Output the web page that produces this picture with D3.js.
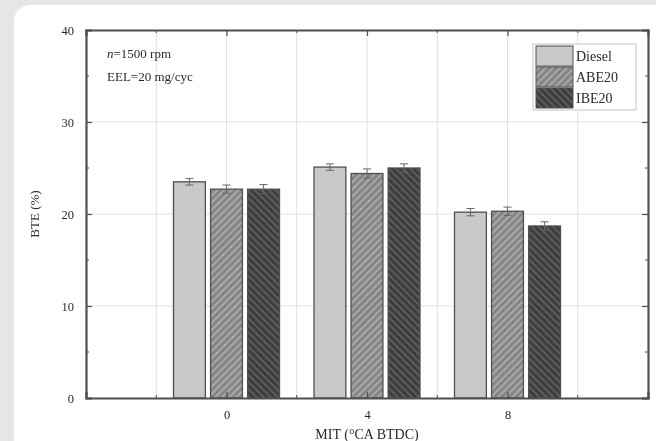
<!DOCTYPE html>
<html>
<head>
<meta charset="utf-8">
<script src="https://cdn.jsdelivr.net/npm/d3@7"></script>
<style>
  html, body {margin: 0; padding: 0; background: #e6e6e6;}
  svg {display: block;}
  text {font-family: "Liberation Serif", "DejaVu Serif", serif; fill: #2a2a2a;}
</style>
</head>
<body>
<svg id="vis" width="656" height="441"></svg>
<script>
// data
var categories = [0, 4, 8];
var series = ["Diesel", "ABE20", "IBE20"];
var diesel = [23.5, 25.1, 20.2];
var abe20 = [22.7, 24.4, 20.3];
var ibe20 = [22.7, 25.0, 18.7];
var dieselErr = [0.35, 0.35, 0.4];
var abe20Err = [0.45, 0.5, 0.45];
var ibe20Err = [0.5, 0.45, 0.45];
var yTicks = [0, 10, 20, 30, 40];

var values = [diesel, abe20, ibe20];
var errs = [dieselErr, abe20Err, ibe20Err];

var margin = {t: 30, r: 8, b: 43, l: 86};
var width = 656 - margin.l - margin.r;
var height = 441 - margin.t - margin.b;

var svg = d3.select('#vis');

var defs = svg.append('defs');

defs.append('filter').attr('id', 'soft')
    .append('feGaussianBlur').attr('stdDeviation', 0.45);

// hatch patterns
var pA = defs.append('pattern').attr('id', 'hatchA')
    .attr('patternUnits', 'userSpaceOnUse')
    .attr('width', 5).attr('height', 5)
    .attr('patternTransform', 'rotate(45)');
pA.append('rect').attr('width', 5).attr('height', 5).attr('fill', '#858585');
pA.append('rect').attr('width', 2).attr('height', 5).attr('fill', '#a8a8a8');

var pB = defs.append('pattern').attr('id', 'hatchB')
    .attr('patternUnits', 'userSpaceOnUse')
    .attr('width', 5).attr('height', 5)
    .attr('patternTransform', 'rotate(-45)');
pB.append('rect').attr('width', 5).attr('height', 5).attr('fill', '#3e3e3e');
pB.append('rect').attr('width', 2).attr('height', 5).attr('fill', '#5c5c5c');

var fills = {"Diesel": "#c9c9c9", "ABE20": "url(#hatchA)", "IBE20": "url(#hatchB)"};

// white card
svg.append('rect')
    .attr('x', 14).attr('y', 5)
    .attr('width', 700).attr('height', 500)
    .attr('rx', 16)
    .attr('fill', '#fff');

var chart = svg.append('g').attr('filter', 'url(#soft)');

var g = chart.append('g')
    .attr('transform', 'translate(' + margin.l + ',' + margin.t + ')');

var x = d3.scaleLinear().domain([-4, 12]).range([0, width]);
var y = d3.scaleLinear().domain([0, 40]).range([height, 0]);
var xs = d3.scaleBand().domain(series).range([-53, 53]).paddingInner(0.14);

var xMinor = d3.range(-2, 12, 4);
var yMinor = d3.range(5, 40, 10);

// grid
g.append('g').selectAll('line.vg')
    .data(d3.range(-2, 12, 2))
    .enter().append('line')
    .attr('x1', function(d){ return x(d); })
    .attr('x2', function(d){ return x(d); })
    .attr('y1', 0).attr('y2', height)
    .attr('stroke', '#e0e0e0').attr('stroke-width', 1);

g.append('g').selectAll('line.hg')
    .data([10, 20, 30])
    .enter().append('line')
    .attr('x1', 0).attr('x2', width)
    .attr('y1', function(d){ return y(d); })
    .attr('y2', function(d){ return y(d); })
    .attr('stroke', '#e0e0e0').attr('stroke-width', 1);

// bars
series.forEach(function(s, i){
    var grp = g.append('g').attr('class', 'bars-' + s);
    grp.selectAll('rect')
        .data(categories)
        .enter().append('rect')
        .attr('x', function(d){ return x(d) + xs(s); })
        .attr('y', function(d, j){ return y(values[i][j]); })
        .attr('width', xs.bandwidth())
        .attr('height', function(d, j){ return height - y(values[i][j]); })
        .attr('fill', fills[s])
        .attr('stroke', '#505050')
        .attr('stroke-width', 1.3);

    // error bars
    grp.selectAll('path.err')
        .data(categories)
        .enter().append('path')
        .attr('class', 'err')
        .attr('d', function(d, j){
            var cx = x(d) + xs(s) + xs.bandwidth()/2;
            var y1 = y(values[i][j] + errs[i][j]);
            var y0 = y(values[i][j] - errs[i][j]);
            return 'M' + (cx-4) + ',' + y1 + 'H' + (cx+4) +
                'M' + cx + ',' + y1 + 'V' + y0 +
                'M' + (cx-4) + ',' + y0 + 'H' + (cx+4);
        })
        .attr('fill', 'none')
        .attr('stroke', '#666')
        .attr('stroke-width', 1);
});

// axes, ticks pointing inward on all four sides
var axisColor = '#505050';

var axBottom = g.append('g').attr('transform', 'translate(0,' + height + ')')
    .call(d3.axisBottom(x).tickValues(categories).tickSize(-6).tickPadding(12).tickFormat(d3.format('d')));
var axLeft = g.append('g')
    .call(d3.axisLeft(y).tickValues(yTicks).tickSize(-6).tickPadding(12));
var axTop = g.append('g')
    .call(d3.axisTop(x).tickValues(categories).tickSize(-6).tickFormat(''));
var axRight = g.append('g').attr('transform', 'translate(' + width + ',0)')
    .call(d3.axisRight(y).tickValues(yTicks).tickSize(-6).tickFormat(''));

[axBottom, axLeft, axTop, axRight].forEach(function(a){
    a.select('.domain').attr('stroke', axisColor).attr('stroke-width', 2.2);
    a.selectAll('.tick line').attr('stroke', axisColor).attr('stroke-width', 1.2);
    a.selectAll('text').attr('font-size', 12.5).attr('fill', '#2a2a2a')
        .attr('font-family', '"Liberation Serif", serif');
});

// minor ticks
var minorG = g.append('g');
xMinor.forEach(function(v){
    minorG.append('line').attr('x1', x(v)).attr('x2', x(v)).attr('y1', height).attr('y2', height - 3)
        .attr('stroke', axisColor);
    minorG.append('line').attr('x1', x(v)).attr('x2', x(v)).attr('y1', 0).attr('y2', 3)
        .attr('stroke', axisColor);
});
yMinor.forEach(function(v){
    minorG.append('line').attr('x1', 0).attr('x2', 3).attr('y1', y(v)).attr('y2', y(v))
        .attr('stroke', axisColor);
    minorG.append('line').attr('x1', width).attr('x2', width - 3).attr('y1', y(v)).attr('y2', y(v))
        .attr('stroke', axisColor);
});

// axis titles
g.append('text')
    .attr('x', x(4))
    .attr('y', height + 41)
    .attr('text-anchor', 'middle')
    .attr('font-size', 14)
    .text('MIT (\u00B0CA BTDC)');

g.append('text')
    .attr('transform', 'rotate(-90)')
    .attr('x', -y(20))
    .attr('y', -47)
    .attr('text-anchor', 'middle')
    .attr('font-size', 13)
    .text('BTE (%)');

// annotation
var note = g.append('text').attr('x', 21).attr('y', 28).attr('font-size', 13);
note.append('tspan').attr('font-style', 'italic').text('n');
note.append('tspan').text('=1500 rpm');
g.append('text').attr('x', 21).attr('y', 51).attr('font-size', 13).text('EEL=20 mg/cyc');

// legend
var legend = g.append('g').attr('transform', 'translate(' + (width - 115) + ',14)');
legend.append('rect')
    .attr('x', 0).attr('y', 0)
    .attr('width', 103).attr('height', 66)
    .attr('fill', '#fff')
    .attr('stroke', '#c4c4c4');

series.forEach(function(s, i){
    legend.append('rect')
        .attr('x', 3).attr('y', 2 + i*21)
        .attr('width', 37).attr('height', 20)
        .attr('fill', fills[s])
        .attr('stroke', '#505050')
        .attr('stroke-width', 1);
    legend.append('text')
        .attr('x', 43).attr('y', 17 + i*21)
        .attr('font-size', 14)
        .text(s);
});
</script>
</body>
</html>
